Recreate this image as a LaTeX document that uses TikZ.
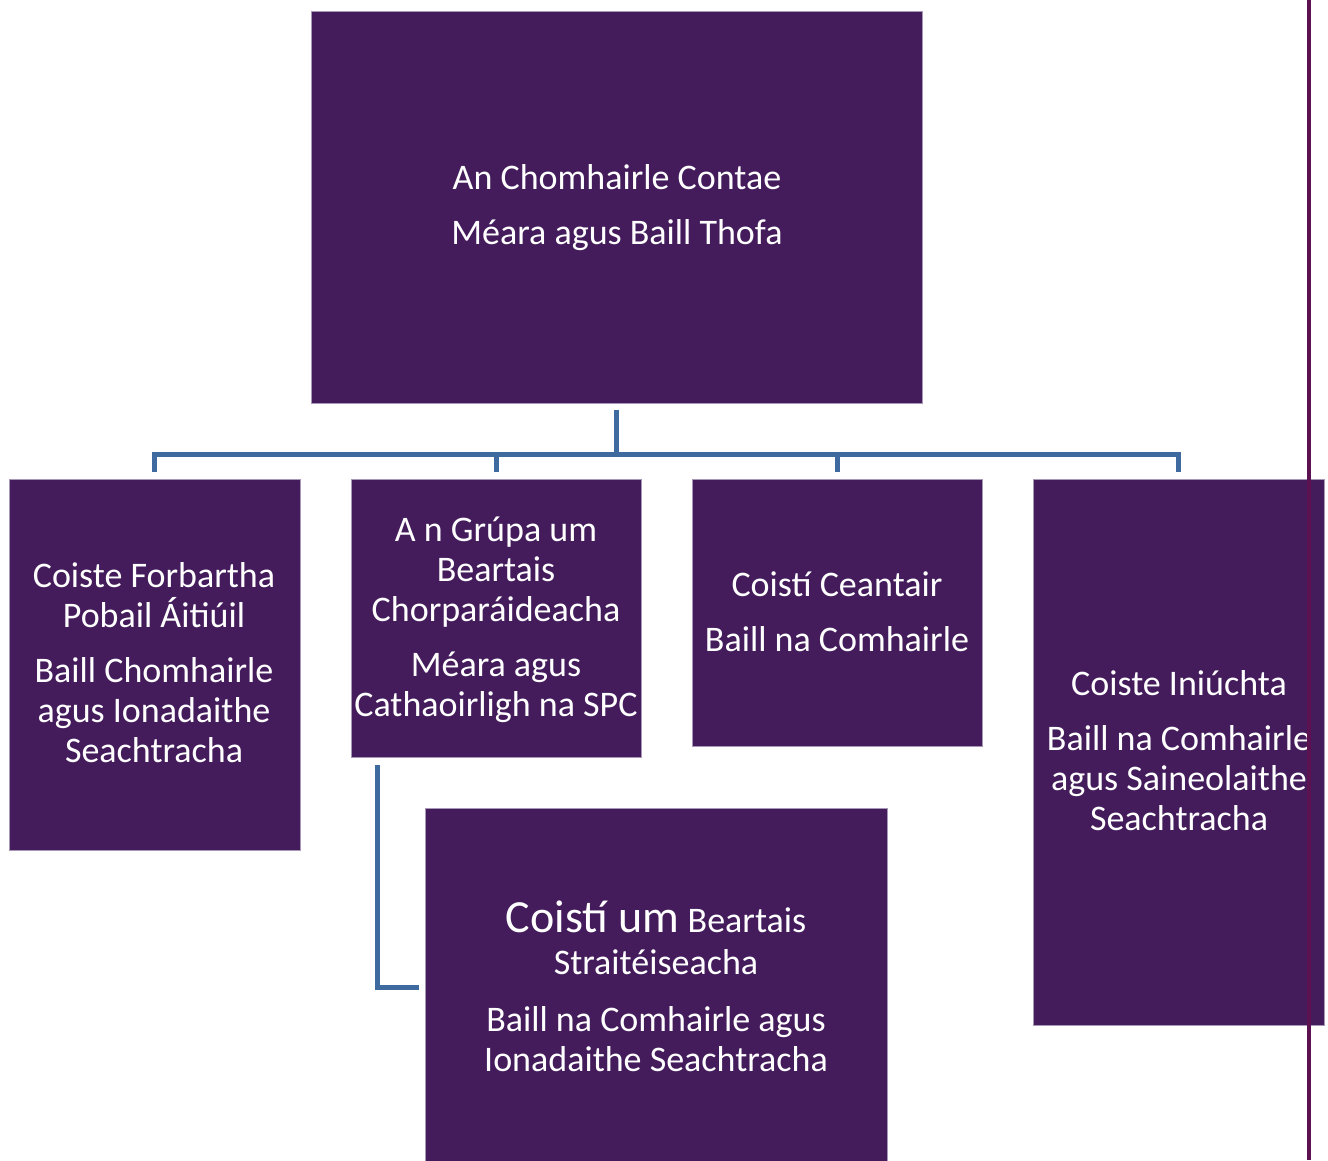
\documentclass[tikz,border=0pt]{standalone}
\usepackage{fontspec}
\setmainfont{Carlito}
\definecolor{boxfill}{HTML}{441C5C}
\definecolor{boxedge}{HTML}{A898B8}
\definecolor{conncol}{HTML}{3F6A9F}
\definecolor{rulecol}{HTML}{5C1150}
\tikzset{
  box/.style={rectangle, fill=boxfill, draw=boxedge, line width=0.8pt, anchor=north west, inner sep=0pt},
  txt/.style={text=white, align=center, inner sep=0pt, font=\fontsize{36}{40}\selectfont},
  conn/.style={draw=conncol, line width=5pt, line join=miter}
}
\begin{document}
\begin{tikzpicture}[x=1pt,y=-1pt]
\useasboundingbox (0,0) rectangle (1328,1160);
\node[box, minimum width=611pt, minimum height=392pt] (top) at (311,11) {};
\node[box, minimum width=291pt, minimum height=371pt] (b1) at (9,479) {};
\node[box, minimum width=290pt, minimum height=278pt] (b2) at (351,479) {};
\node[box, minimum width=290pt, minimum height=267pt] (b3) at (692,479) {};
\node[box, minimum width=291pt, minimum height=546pt] (b4) at (1033,479) {};
\node[box, minimum width=462pt, minimum height=356pt] (b5) at (425,808) {};

\node[txt] (t0) at (617,208) {An Chomhairle Contae\\[15pt]Méara agus Baill Thofa};
\node[txt] (t1) at (154,663) {Coiste Forbartha\\Pobail Áitiúil\\[15pt]Baill Chomhairle\\agus Ionadaithe\\Seachtracha};
\node[txt] (t2) at (496,620) {A n Grúpa um\\Beartais\\Chorparáideacha\\[15pt]Méara agus\\Cathaoirligh na SPC};
\node[txt] (t3) at (837,612) {Coistí Ceantair\\[15pt]Baill na Comhairle};
\node[txt] (t4) at (1179,751) {Coiste Iniúchta\\[15pt]Baill na Comhairle\\agus Saineolaithe\\Seachtracha};
\node[txt] (t5) at (656,986) {{\fontsize{46}{45}\selectfont Coistí um} Beartais\\[2pt]Straitéiseacha\\[17pt]Baill na Comhairle agus\\Ionadaithe Seachtracha};

\foreach \b in {b1,b2,b3,b4}
  \draw[conn] ([yshift=-6pt]top.south) -- ++(0,45) -| ([yshift=7pt]\b.north);
\draw[conn] ([xshift=26pt,yshift=-7pt]b2.south west) |- ([xshift=-6pt,yshift=-1pt]b5.west);

\coordinate (rt) at (1309,0);
\coordinate (rb) at (1309,1160);
\draw[rulecol, line width=4pt] (rt) -- (rb);
\end{tikzpicture}
\end{document}
